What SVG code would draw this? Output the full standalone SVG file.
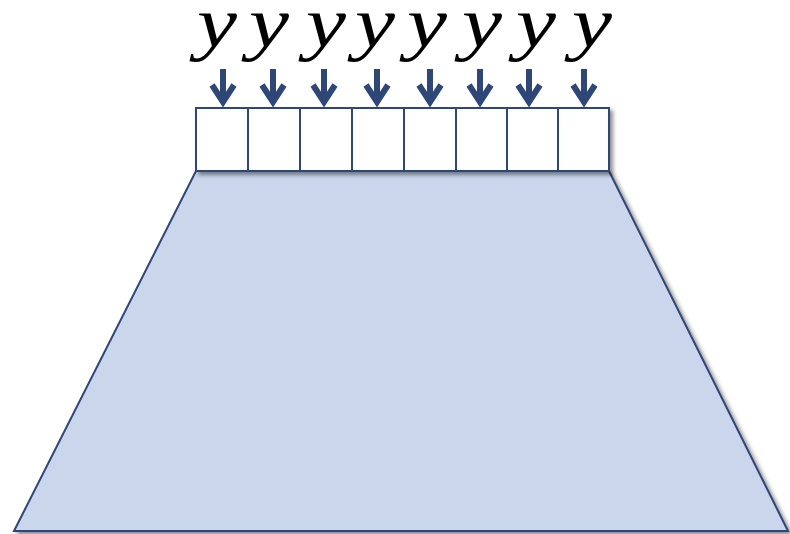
<svg xmlns="http://www.w3.org/2000/svg" width="790" height="534" viewBox="0 0 790 534">
<defs>
<filter id="sh" x="-10%" y="-10%" width="130%" height="130%">
<feGaussianBlur in="SourceAlpha" stdDeviation="2"/>
<feOffset dx="3" dy="3" result="b"/>
<feComponentTransfer><feFuncA type="linear" slope="0.45"/></feComponentTransfer>
<feMerge><feMergeNode/><feMergeNode in="SourceGraphic"/></feMerge>
</filter>
<style>
.box{fill:#fff;stroke:#2E4776;stroke-width:2}
.arr{fill:none;stroke:#2E4776;stroke-width:6;stroke-linecap:butt;stroke-linejoin:miter}
.lbl{font-family:"Liberation Serif",serif;font-style:italic;font-size:72px;fill:#000;text-anchor:middle}
</style>
</defs>
<g id="trapezoid" filter="url(#sh)">
<polygon points="196,171 609,171 788,531 14,531" fill="#CAD6EC" stroke="#2E4776" stroke-width="2"/>
</g>
<g id="cells" filter="url(#sh)">
<rect class="box" x="196" y="108" width="52" height="63"/>
<rect class="box" x="248" y="108" width="52" height="63"/>
<rect class="box" x="300" y="108" width="52" height="63"/>
<rect class="box" x="352" y="108" width="52" height="63"/>
<rect class="box" x="404" y="108" width="52" height="63"/>
<rect class="box" x="456" y="108" width="51" height="63"/>
<rect class="box" x="507" y="108" width="51" height="63"/>
<rect class="box" x="558" y="108" width="51" height="63"/>
</g>
<g id="labels">
<text class="lbl" transform="translate(217,47) scale(1.25,1)">y</text>
<text class="lbl" transform="translate(269,47) scale(1.25,1)">y</text>
<text class="lbl" transform="translate(326,47) scale(1.25,1)">y</text>
<text class="lbl" transform="translate(375,47) scale(1.25,1)">y</text>
<text class="lbl" transform="translate(427,47) scale(1.25,1)">y</text>
<text class="lbl" transform="translate(482,47) scale(1.25,1)">y</text>
<text class="lbl" transform="translate(536,47) scale(1.25,1)">y</text>
<text class="lbl" transform="translate(592,47) scale(1.25,1)">y</text>
</g>
<g id="connectors">
<path class="arr" d="M223,69V102M212,85L223,102L234,85"/>
<path class="arr" d="M273,69V102M262,85L273,102L284,85"/>
<path class="arr" d="M324,69V102M313,85L324,102L335,85"/>
<path class="arr" d="M377,69V102M366,85L377,102L388,85"/>
<path class="arr" d="M430,69V102M419,85L430,102L441,85"/>
<path class="arr" d="M480,69V102M469,85L480,102L491,85"/>
<path class="arr" d="M529,69V102M518,85L529,102L540,85"/>
<path class="arr" d="M584,69V102M573,85L584,102L595,85"/>
</g>
</svg>
